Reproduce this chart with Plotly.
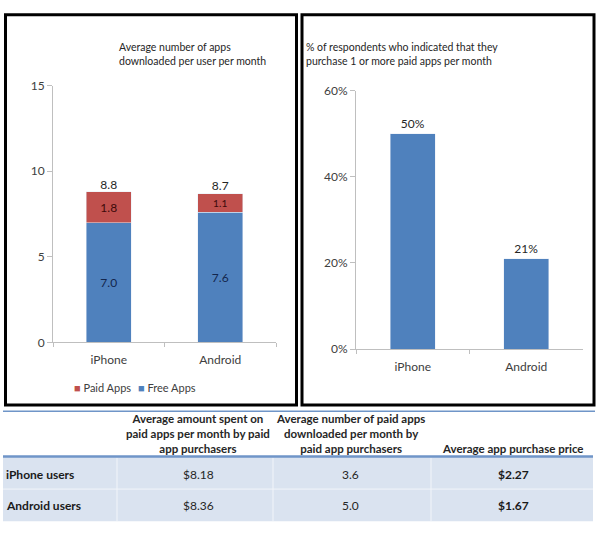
import plotly.graph_objects as go

# ---------------- data ----------------
platforms = ["iPhone", "Android"]
free_apps = [7.0, 7.6]
paid_apps = [1.8, 1.1]
pct_paid_buyers = [50, 21]
pct_ticks = [0, 20, 40, 60]
count_ticks = [0, 5, 10, 15]

left_title = "Average number of apps<br>downloaded per user per month"
right_title = "% of respondents who indicated that they<br>purchase 1 or more paid apps per month"

table_headers = [
    "",
    "Average amount spent on<br>paid apps per month by paid<br>app purchasers",
    "Average number of paid apps<br>downloaded per month by<br>paid app purchasers",
    "Average app purchase price",
]
table_rows = ["iPhone users", "Android users"]
avg_spent = ["$8.18", "$8.36"]
avg_paid_count = ["3.6", "5.0"]
avg_price = ["$2.27", "$1.67"]

# ---------------- helpers ----------------
W, H = 600, 533
FONT = "Lato"
RED = "#c0504d"
BLUE = "#4f81bd"
AXIS = "#bfbfbf"
TXT = "#404040"


def px(x):
    return x / W


def py(y):
    return 1 - y / H


totals = [f + p for f, p in zip(free_apps, paid_apps)]

fig = go.Figure()

fig.add_trace(go.Bar(
    x=platforms, y=free_apps, name="Free Apps", marker_color=BLUE,
    text=[f"{v:.1f}" for v in free_apps], textposition="inside",
    insidetextanchor="middle", textfont=dict(color="#13264d", size=12, family=FONT),
    xaxis="x", yaxis="y", hoverinfo="skip", showlegend=False,
))
fig.add_trace(go.Bar(
    x=platforms, y=paid_apps, name="Paid Apps", marker_color=RED,
    text=[f"{v:.1f}" for v in paid_apps], textposition="inside",
    insidetextanchor="middle", textfont=dict(color="#3d0a0a", size=12, family=FONT),
    xaxis="x", yaxis="y", hoverinfo="skip", showlegend=False,
))
fig.add_trace(go.Scatter(
    x=platforms, y=totals, mode="text", text=[f"{v:.1f}" for v in totals],
    textposition="top center", textfont=dict(color="#262626", size=12, family=FONT),
    showlegend=False, xaxis="x", yaxis="y", hoverinfo="skip", cliponaxis=False,
))
fig.add_trace(go.Bar(
    x=platforms, y=pct_paid_buyers, marker_color=BLUE, showlegend=False,
    text=[f"{v}%" for v in pct_paid_buyers], textposition="outside",
    textfont=dict(color="#262626", size=12, family=FONT), cliponaxis=False,
    xaxis="x2", yaxis="y2", hoverinfo="skip",
))

common_x = dict(type="category", showline=True, linecolor=AXIS, linewidth=1,
                ticks="outside", tickson="boundaries", ticklen=4, tickcolor=AXIS,
                showgrid=False, zeroline=False, fixedrange=True, ticklabelstandoff=6,
                tickfont=dict(size=12, color=TXT, family=FONT))
common_y = dict(showline=True, linecolor=AXIS, linewidth=1, ticks="outside",
                ticklen=5, tickcolor=AXIS, showgrid=False, zeroline=False,
                fixedrange=True, tickfont=dict(size=12, color=TXT, family=FONT))

fig.update_layout(
    width=W, height=H, autosize=False,
    margin=dict(l=0, r=0, t=0, b=0),
    paper_bgcolor="white", plot_bgcolor="white",
    barmode="stack", bargap=0.6,
    font=dict(family=FONT, color=TXT),
    xaxis=dict(domain=[px(53), px(276)], anchor="y", **common_x),
    yaxis=dict(domain=[py(344), py(80)], anchor="x", range=[0, 15],
               tickvals=count_ticks, ticktext=[str(v) for v in count_ticks], **common_y),
    xaxis2=dict(domain=[px(356), px(583)], anchor="y2", **common_x),
    yaxis2=dict(domain=[py(351), py(85)], anchor="x2", range=[0, 60],
                tickvals=pct_ticks, ticktext=[f"{v}%" for v in pct_ticks], **common_y),
    showlegend=False,
)

shapes = []
# panel borders
shapes.append(dict(type="rect", xref="paper", yref="paper", x0=px(5.5), x1=px(296.5),
                   y0=py(408.5), y1=py(7), line=dict(color="black", width=3)))
shapes.append(dict(type="rect", xref="paper", yref="paper", x0=px(302), x1=px(594),
                   y0=py(408.5), y1=py(7), line=dict(color="black", width=3)))
# table
shapes.append(dict(type="rect", xref="paper", yref="paper", x0=px(3), x1=px(593),
                   y0=py(528), y1=py(462), fillcolor="#dae3f0", line=dict(width=0), layer="below"))
shapes.append(dict(type="line", xref="paper", yref="paper", x0=px(3), x1=px(595),
                   y0=py(415), y1=py(415), line=dict(color="#6f95c8", width=1.5)))
shapes.append(dict(type="line", xref="paper", yref="paper", x0=px(3), x1=px(593),
                   y0=py(461.5), y1=py(461.5), line=dict(color="#6f95c8", width=2.5)))
shapes.append(dict(type="line", xref="paper", yref="paper", x0=px(3), x1=px(593),
                   y0=py(495), y1=py(495), line=dict(color="#f2f5fa", width=1)))
for cx in [117, 273, 431]:
    shapes.append(dict(type="line", xref="paper", yref="paper", x0=px(cx), x1=px(cx),
                       y0=py(528), y1=py(463), line=dict(color="#f2f5fa", width=1)))
fig.update_layout(shapes=shapes)

ann = []
ann.append(dict(text=left_title, x=px(117), y=py(32), xref="paper", yref="paper",
                xanchor="left", yanchor="top", align="left", showarrow=False,
                font=dict(size=10.5, color="#262626", family=FONT)))
ann.append(dict(text=right_title, x=px(304), y=py(32), xref="paper", yref="paper",
                xanchor="left", yanchor="top", align="left", showarrow=False,
                font=dict(size=10.5, color="#262626", family=FONT)))

# legend (colored squares as text)
legend_items = [("Paid Apps", RED, 72), ("Free Apps", BLUE, 136)]
for name, col, lx in legend_items:
    ann.append(dict(text=f'<span style="color:{col}">■</span> {name}', x=px(lx), y=py(391),
                    xref="paper", yref="paper", xanchor="left", yanchor="middle",
                    showarrow=False, font=dict(size=11, color=TXT, family=FONT)))

col_centers = [None, 198, 350, 513]
for ci in range(1, 4):
    ann.append(dict(text=f"<b>{table_headers[ci]}</b>", x=px(col_centers[ci]), y=py(462),
                    xref="paper", yref="paper", xanchor="center", yanchor="bottom",
                    align="center", showarrow=False,
                    font=dict(size=11.5, color="#262626", family=FONT)))
row_ys = [480, 512]
for ri, label in enumerate(table_rows):
    yy = py(row_ys[ri])
    ann.append(dict(text=f"<b>{label}</b>", x=px(4), y=yy, xref="paper", yref="paper",
                    xanchor="left", yanchor="middle", showarrow=False,
                    font=dict(size=12, color="#1a1a1a", family=FONT)))
    ann.append(dict(text=avg_spent[ri], x=px(col_centers[1]), y=yy, xref="paper", yref="paper",
                    xanchor="center", yanchor="middle", showarrow=False,
                    font=dict(size=12, color="#262626", family=FONT)))
    ann.append(dict(text=avg_paid_count[ri], x=px(col_centers[2]), y=yy, xref="paper", yref="paper",
                    xanchor="center", yanchor="middle", showarrow=False,
                    font=dict(size=12, color="#262626", family=FONT)))
    ann.append(dict(text=f"<b>{avg_price[ri]}</b>", x=px(col_centers[3]), y=yy, xref="paper",
                    yref="paper", xanchor="center", yanchor="middle", showarrow=False,
                    font=dict(size=12, color="#1a1a1a", family=FONT)))
fig.update_layout(annotations=ann)

fig.write_html("out.html", config={"displayModeBar": False},
               post_script="document.body.style.margin='0';")
